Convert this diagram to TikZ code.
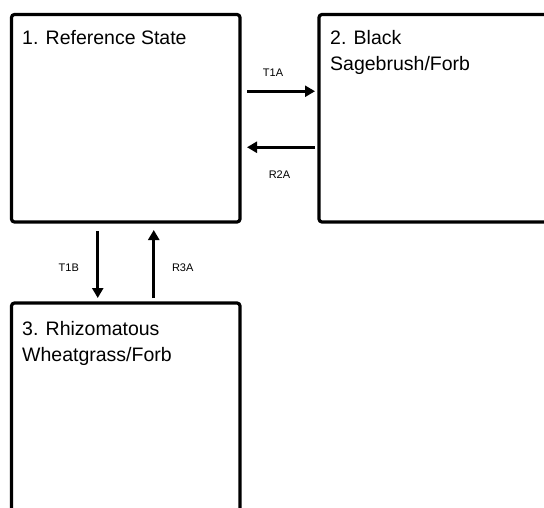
\documentclass[tikz,border=0pt]{standalone}
\usepackage{fontspec}
\setmainfont{Liberation Sans}
\usetikzlibrary{arrows.meta}

\tikzset{
  state/.style={draw, line width=3.2pt, rounded corners=3pt, inner sep=0pt, outer sep=0pt},
  title/.style={anchor=base west, align=left, inner sep=0pt, font=\fontsize{19.5}{26}\selectfont},
  trans/.style={->, line width=3pt},
  lbl/.style={font=\fontsize{11}{13}\selectfont, inner sep=0pt}
}

\begin{document}
\begin{tikzpicture}[>={Triangle[length=10pt,width=11pt]}, x=1pt, y=-1pt]
    \useasboundingbox (0,0) rectangle (544,508);
    \clip (0,0) rectangle (544,508);

    % State boxes
    \node[state, minimum width=228.5pt, minimum height=207.5pt] (ref) at (125.75,118.25) {};
    \node[state, minimum width=240pt, minimum height=207.5pt] (sage) at (439,118.25) {};
    \node[state, minimum width=228.5pt, minimum height=220pt] (rhiz) at (125.75,413) {};

    % State names (base = last line)
    \node[title] (reft) at ([xshift=10.5pt, yshift=-30.5pt]ref.north west) {1. Reference State};
    \node[title] (saget) at ([xshift=11pt, yshift=-56.5pt]sage.north west) {2. Black\\Sagebrush/Forb};
    \node[title] (rhizt) at ([xshift=10.5pt, yshift=-58pt]rhiz.north west) {3. Rhizomatous\\Wheatgrass/Forb};

    % Transitions and restorations
    \draw[trans, shorten <=7pt, shorten >=4pt] ([yshift=27pt]ref.east) -- ([yshift=27pt]sage.west)
        node[lbl, midway, xshift=-6.5pt, yshift=19pt] (t1a) {T1A};
    \draw[trans, shorten <=4pt, shorten >=7pt] ([yshift=-29pt]sage.west) -- ([yshift=-29pt]ref.east)
        node[lbl, midway, yshift=-27pt] (r2a) {R2A};
    \draw[trans, shorten <=9pt, shorten >=5pt] ([xshift=-28pt]ref.south) -- ([xshift=-28pt]rhiz.north)
        node[lbl, midway, xshift=-29pt, yshift=-5.5pt] (t1b) {T1B};
    \draw[trans, shorten <=5pt, shorten >=8pt] ([xshift=28pt]rhiz.north) -- ([xshift=28pt]ref.south)
        node[lbl, midway, xshift=29pt, yshift=-5.5pt] (r3a) {R3A};
\end{tikzpicture}
\end{document}
